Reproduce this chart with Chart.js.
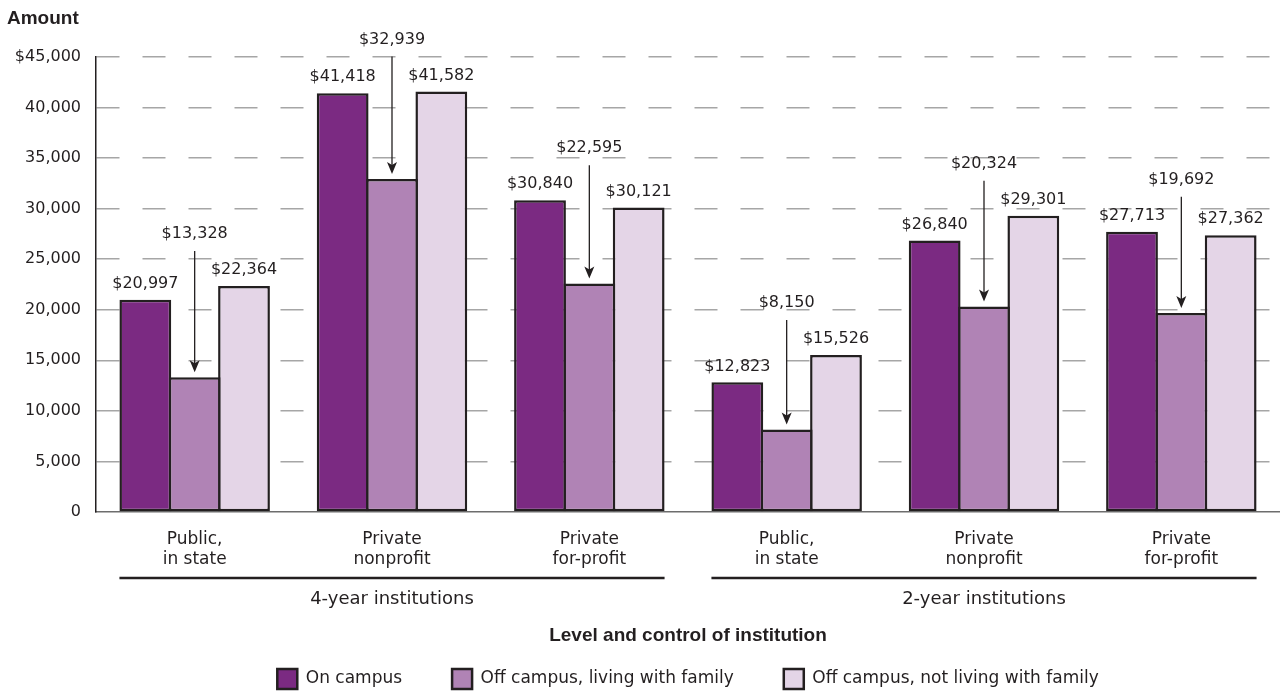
<!DOCTYPE html>
<html>
<head>
<meta charset="utf-8">
<title>Average cost of attendance by living arrangement</title>
<script src="https://cdn.jsdelivr.net/npm/chart.js@4.4.1/dist/chart.umd.min.js"></script>
<style>
  html, body { margin: 0; padding: 0; background: #ffffff; }
  canvas { display: block; }
</style>
</head>
<body>
<canvas id="costChart" width="1280" height="696"></canvas>
<script>
// data
const categoryLabels = [
  ["Public,", "in state"],
  ["Private", "nonprofit"],
  ["Private", "for-profit"],
  ["Public,", "in state"],
  ["Private", "nonprofit"],
  ["Private", "for-profit"]
];
const groupNames = ["4-year institutions", "2-year institutions"];
const groupFirstLast = [[0, 2], [3, 5]];
const seriesNames = ["On campus", "Off campus, living with family", "Off campus, not living with family"];
const onCampus = [20997, 41418, 30840, 12823, 26840, 27713];
const offCampusFamily = [13328, 32939, 22595, 8150, 20324, 19692];
const offCampusAlone = [22364, 41582, 30121, 15526, 29301, 27362];
const yMax = 45000;
const yStep = 5000;
const yTitle = "Amount";
const xTitle = "Level and control of institution";

const textColor = "#231f20";
const seriesColors = ["#7b2a82", "#b083b5", "#e4d5e7"];

Chart.defaults.font.family = "'DejaVu Sans', sans-serif";
Chart.defaults.color = textColor;

function money(value) {
  return "$" + value.toLocaleString("en-US");
}

// value labels, callout arrows, group brackets and titles
const annotations = {
  id: "annotations",
  afterDatasetsDraw(chart) {
    const ctx = chart.ctx;
    const barsA = chart.getDatasetMeta(0).data;
    const barsB = chart.getDatasetMeta(1).data;
    const barsC = chart.getDatasetMeta(2).data;
    ctx.save();
    ctx.fillStyle = textColor;
    ctx.strokeStyle = textColor;
    ctx.font = "16px 'DejaVu Sans'";
    ctx.textAlign = "center";
    ctx.textBaseline = "middle";
    for (let i = 0; i < barsA.length; i++) {
      ctx.fillText(money(onCampus[i]), barsA[i].x, barsA[i].y - 16);
      ctx.fillText(money(offCampusAlone[i]), barsC[i].x, barsC[i].y - 16);

      // middle bar gets its label lifted above the neighbours with an arrow down
      const mid = barsB[i];
      const labelY = Math.min(barsA[i].y, barsC[i].y) - 52;
      ctx.fillText(money(offCampusFamily[i]), mid.x, labelY);
      const tipY = mid.y - 5;
      ctx.lineWidth = 1.3;
      ctx.beginPath();
      ctx.moveTo(mid.x, labelY + 17);
      ctx.lineTo(mid.x, tipY - 8);
      ctx.stroke();
      ctx.beginPath();
      ctx.moveTo(mid.x, tipY);
      ctx.lineTo(mid.x - 5, tipY - 12);
      ctx.lineTo(mid.x, tipY - 9);
      ctx.lineTo(mid.x + 5, tipY - 12);
      ctx.closePath();
      ctx.fill();
    }
    ctx.restore();
  },
  afterDraw(chart) {
    const ctx = chart.ctx;
    const area = chart.chartArea;
    const barsA = chart.getDatasetMeta(0).data;
    const barsC = chart.getDatasetMeta(2).data;
    ctx.save();
    ctx.fillStyle = textColor;
    ctx.strokeStyle = textColor;

    ctx.font = "bold 19px 'Liberation Sans', Arial, sans-serif";
    ctx.textAlign = "left";
    ctx.textBaseline = "middle";
    ctx.fillText(yTitle, 7, 19);

    ctx.lineWidth = 2.5;
    ctx.font = "18px 'DejaVu Sans'";
    ctx.textAlign = "center";
    groupFirstLast.forEach((span, g) => {
      const left = barsA[span[0]].x - barsA[span[0]].width / 2;
      const right = barsC[span[1]].x + barsC[span[1]].width / 2;
      ctx.beginPath();
      ctx.moveTo(left, area.bottom + 66);
      ctx.lineTo(right, area.bottom + 66);
      ctx.stroke();
      ctx.fillText(groupNames[g], (left + right) / 2, area.bottom + 87);
    });

    ctx.font = "bold 19px 'Liberation Sans', Arial, sans-serif";
    ctx.fillText(xTitle, (area.left + area.right) / 2, area.bottom + 124);
    ctx.restore();
  }
};

const costChart = new Chart(document.getElementById("costChart").getContext("2d"), {
  type: "bar",
  data: {
    labels: categoryLabels,
    datasets: [
      { label: seriesNames[0], data: onCampus, backgroundColor: seriesColors[0] },
      { label: seriesNames[1], data: offCampusFamily, backgroundColor: seriesColors[1] },
      { label: seriesNames[2], data: offCampusAlone, backgroundColor: seriesColors[2] }
    ]
  },
  options: {
    responsive: false,
    animation: false,
    layout: { padding: { top: 57, left: 0, right: 0, bottom: -3 } },
    datasets: {
      bar: {
        borderColor: textColor,
        borderWidth: 2.5,
        borderSkipped: false,
        categoryPercentage: 0.75,
        barPercentage: 1.05
      }
    },
    plugins: {
      title: { display: false },
      tooltip: { enabled: false },
      legend: {
        position: "bottom",
        fullSize: false,
        labels: {
          boxWidth: 20,
          boxHeight: 20,
          padding: 50,
          color: textColor,
          font: { size: 17 }
        }
      }
    },
    scales: {
      x: {
        grid: { display: false },
        border: { display: true, color: "#6d6d6d", width: 1.5 },
        ticks: {
          padding: 9,
          color: textColor,
          font: { size: 17, lineHeight: 1.2 },
          maxRotation: 0
        },
        afterFit(scale) { scale.height = 107; }
      },
      y: {
        min: 0,
        max: yMax,
        grid: {
          drawTicks: false,
          lineWidth: 1.5,
          color: (c) => (c.tick && c.tick.value === 0 ? "rgba(0,0,0,0)" : "#a6a6a6")
        },
        border: { display: true, color: textColor, width: 1.5, dash: [23, 23] },
        ticks: {
          stepSize: yStep,
          padding: 15,
          color: textColor,
          font: { size: 16 },
          callback: (value) => (value === yMax ? money(value) : value.toLocaleString("en-US"))
        },
        afterFit(scale) { scale.width = 96; }
      }
    }
  },
  plugins: [annotations]
});
</script>
</body>
</html>
